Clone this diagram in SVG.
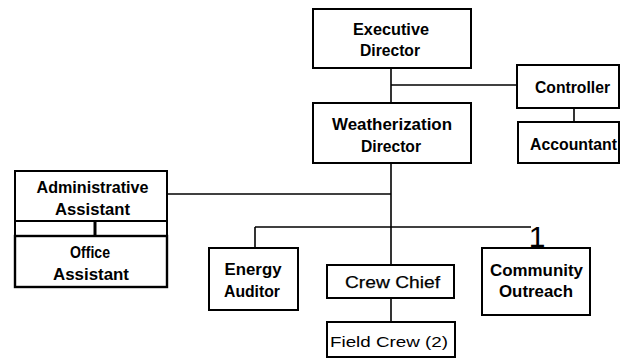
<svg xmlns="http://www.w3.org/2000/svg" width="620" height="358" viewBox="0 0 620 358">
<style>
.box{fill:#fff;stroke:#000;stroke-width:2}
.ln{stroke:#000;stroke-width:1.6;fill:none}
text{font-family:"Liberation Sans",Arial,sans-serif;font-size:16.5px;fill:#000;text-anchor:middle}
.b{font-weight:bold}
.m{stroke:#000;stroke-width:0.25}
</style>
<rect width="620" height="358" fill="#fff"/>
<g id="connectors">
<line class="ln" x1="391" y1="68" x2="391" y2="103"/>
<line class="ln" x1="391" y1="85" x2="517" y2="85"/>
<line class="ln" x1="574" y1="108" x2="574" y2="122"/>
<line class="ln" x1="391" y1="163" x2="391" y2="265"/>
<line class="ln" x1="167" y1="194" x2="391" y2="194"/>
<line class="ln" x1="255" y1="227" x2="531" y2="227"/>
<line class="ln" x1="255" y1="227" x2="255" y2="248"/>
<line class="ln" x1="391" y1="298" x2="391" y2="322"/>
<text x="537" y="247" style="font-size:30px">1</text>
</g>
<g id="executive-director">
<rect class="box" x="313" y="9" width="158" height="59"/>
<text class="b" x="391" y="35" textLength="76" lengthAdjust="spacingAndGlyphs">Executive</text>
<text class="b" x="390" y="56" textLength="60" lengthAdjust="spacingAndGlyphs">Director</text>
</g>
<g id="controller">
<rect class="box" x="517" y="65" width="102" height="43"/>
<text class="b" x="572.5" y="93" textLength="75" lengthAdjust="spacingAndGlyphs">Controller</text>
</g>
<g id="accountant">
<rect class="box" x="518" y="122" width="101" height="41"/>
<text class="b" x="573.5" y="150" textLength="87" lengthAdjust="spacingAndGlyphs">Accountant</text>
</g>
<g id="weatherization-director">
<rect class="box" x="313" y="103" width="158" height="60"/>
<text class="b" x="392" y="130" textLength="120" lengthAdjust="spacingAndGlyphs">Weatherization</text>
<text class="b" x="391" y="152" textLength="60" lengthAdjust="spacingAndGlyphs">Director</text>
</g>
<g id="administrative-assistant">
<rect class="box" x="15" y="171" width="152" height="50"/>
<text class="b" x="92.5" y="193" textLength="112" lengthAdjust="spacingAndGlyphs">Administrative</text>
<text class="b" x="92.5" y="215" textLength="75" lengthAdjust="spacingAndGlyphs">Assistant</text>
</g>
<g id="office-assistant">
<rect class="box" x="15" y="221" width="152" height="15"/>
<line x1="95" y1="221" x2="95" y2="236" stroke="#000" stroke-width="3"/>
<rect class="box" x="15" y="236" width="152" height="51" style="stroke-width:2.4"/>
<text class="b" x="90" y="258" textLength="40" lengthAdjust="spacingAndGlyphs">Office</text>
<text class="b" x="91" y="280" textLength="76" lengthAdjust="spacingAndGlyphs">Assistant</text>
</g>
<g id="energy-auditor">
<rect class="box" x="209" y="248" width="89" height="62"/>
<text class="b" x="253" y="275" textLength="57" lengthAdjust="spacingAndGlyphs">Energy</text>
<text class="b" x="252" y="297" textLength="56" lengthAdjust="spacingAndGlyphs">Auditor</text>
</g>
<g id="crew-chief">
<rect class="box" x="327" y="265" width="127" height="33"/>
<text class="m" x="392.5" y="288" textLength="95" lengthAdjust="spacingAndGlyphs">Crew Chief</text>
</g>
<g id="field-crew">
<rect class="box" x="327" y="322" width="128" height="35"/>
<text x="389" y="347" textLength="118" lengthAdjust="spacingAndGlyphs" style="font-size:15px">Field Crew (2)</text>
</g>
<g id="community-outreach">
<rect class="box" x="482" y="248" width="108" height="67"/>
<text class="b" x="536.5" y="276" textLength="93" lengthAdjust="spacingAndGlyphs">Community</text>
<text class="b" x="536" y="297" textLength="74" lengthAdjust="spacingAndGlyphs">Outreach</text>
</g>
</svg>
